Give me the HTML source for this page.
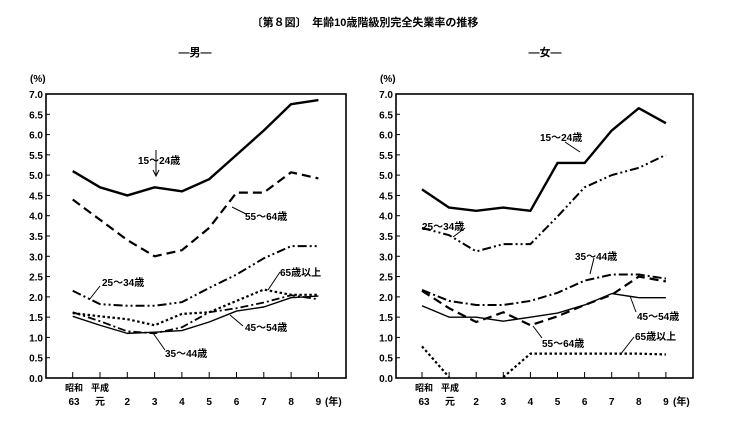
<!DOCTYPE html>
<html><head><meta charset="utf-8"><style>
body{margin:0;background:#fff;}
svg{display:block;font-family:"Liberation Sans","Noto Sans CJK JP",sans-serif;font-weight:bold;}
</style></head><body>
<svg id="s" width="729" height="437" viewBox="0 0 729 437" xmlns="http://www.w3.org/2000/svg">
<rect width="729" height="437" fill="#fff"/>
<text x="365" y="26" font-size="11" text-anchor="middle">〔第８図〕　年齢10歳階級別完全失業率の推移</text>
<text x="195" y="56" font-size="11" text-anchor="middle">―男―</text>
<text x="545" y="56" font-size="11" text-anchor="middle">―女―</text>
<g id="L"></g><g id="R"></g>
<g font-size="10">
<text x="30" y="82">(%)</text><text x="380" y="82">(%)</text>
<text x="74" y="405" text-anchor="middle">63</text><text x="100" y="405" text-anchor="middle">元</text>
<text x="74" y="391" text-anchor="middle" font-size="9">昭和</text><text x="100" y="391" text-anchor="middle" font-size="9">平成</text>
<text x="325" y="405" font-size="10">(年)</text>
<text x="424" y="405" text-anchor="middle">63</text><text x="450" y="405" text-anchor="middle">元</text>
<text x="424" y="391" text-anchor="middle" font-size="9">昭和</text><text x="450" y="391" text-anchor="middle" font-size="9">平成</text>
<text x="673" y="405" font-size="10">(年)</text>
</g>
<g font-size="10">
<text x="138" y="164">15～24歳</text>
<text x="245" y="220">55～64歳</text>
<text x="102" y="286">25～34歳</text>
<text x="280" y="276">65歳以上</text>
<text x="245" y="331">45～54歳</text>
<text x="165" y="357">35～44歳</text>
<text x="540" y="141">15～24歳</text>
<text x="422" y="230">25～34歳</text>
<text x="575" y="260">35～44歳</text>
<text x="637" y="320">45～54歳</text>
<text x="542" y="347">55～64歳</text>
<text x="635" y="340">65歳以上</text>
</g>
<g stroke="#000" stroke-width="1" fill="none">
<path d="M156 150 L156 176 M153 170 L156 176 L159 170"/>
<path d="M246 214 L232 207"/>
<path d="M100 286 L89 300"/>
<path d="M280 272 L268 290"/>
<path d="M243 326 L230 315"/>
<path d="M165 350 L153 333"/>
<path d="M565 142 L580 152"/>
<path d="M465 228 L453 237"/>
<path d="M594 258 L590 274"/>
<path d="M636 312 L630 296"/>
<path d="M542 338 L533 326"/>
<path d="M634 337 L620 355"/>
</g>
</svg>
<script>
const NS="http://www.w3.org/2000/svg";
function mk(p,tag,a){const e=document.createElementNS(NS,tag);for(const k in a)e.setAttribute(k,a[k]);p.appendChild(e);return e;}
function chart(id,x0,x1,first,dx,series){
 const g=document.getElementById(id),top=94,bot=378,py=(bot-top)/7;
 mk(g,"rect",{x:x0,y:top,width:x1-x0,height:bot-top,fill:"none",stroke:"#000","stroke-width":1.6});
 for(let i=0;i<=14;i++){const y=bot-i*py/2;mk(g,"line",{x1:x0,x2:x0+4,y1:y,y2:y,stroke:"#000"});
  const t=mk(g,"text",{x:x0-3,y:y+4,"font-size":10,"text-anchor":"end"});t.textContent=(i/2).toFixed(1);}
 const labs=["","","2","3","4","5","6","7","8","9"];
 for(let i=0;i<10;i++){const x=first+i*dx;mk(g,"line",{x1:x,x2:x,y1:bot,y2:bot-6,stroke:"#000"});
  if(labs[i]){const t=mk(g,"text",{x:x,y:405,"font-size":10,"text-anchor":"middle"});t.textContent=labs[i];}}
 for(const s of series){const pts=s.d.map((v,i)=>v==null?null:[first+i*dx,bot-v*py]);
  let segs=[],cur=[];pts.forEach(p=>{if(p)cur.push(p.join(","));else{if(cur.length)segs.push(cur);cur=[];}});if(cur.length)segs.push(cur);
  for(const c of segs)mk(g,"polyline",{points:c.join(" "),fill:"none",stroke:"#000","stroke-width":s.w,"stroke-dasharray":s.da||"none","stroke-linejoin":"round"});}
}
chart("L",46,346,72.7,27.3,[
 {d:[5.1,4.7,4.5,4.7,4.6,4.9,5.5,6.1,6.75,6.85],w:2.4},
 {d:[4.4,3.9,3.4,3.0,3.15,3.7,4.57,4.57,5.07,4.92],w:2.2,da:"9,5"},
 {d:[2.15,1.82,1.78,1.78,1.87,2.22,2.55,2.95,3.25,3.25],w:2,da:"9,3,2,3,2,3"},
 {d:[1.6,1.52,1.45,1.3,1.58,1.62,1.9,2.18,2.05,2.05],w:2.2,da:"2.5,2.5"},
 {d:[1.52,1.3,1.1,1.13,1.17,1.38,1.65,1.75,1.98,2.02],w:1.4},
 {d:[1.62,1.4,1.15,1.1,1.25,1.62,1.72,1.86,2.04,1.94],w:1.8,da:"8,3,2,3"}
]);
chart("R",396,693,422,27.1,[
 {d:[4.65,4.2,4.12,4.2,4.12,5.3,5.3,6.1,6.65,6.28],w:2.4},
 {d:[3.7,3.52,3.12,3.3,3.3,3.98,4.7,5.0,5.18,5.5],w:2,da:"9,3,2,3,2,3"},
 {d:[2.17,1.9,1.8,1.8,1.9,2.1,2.4,2.55,2.55,2.45],w:2,da:"9,3,2,3"},
 {d:[2.15,1.72,1.38,1.62,1.3,1.52,1.8,2.05,2.5,2.38],w:2.2,da:"9,5"},
 {d:[1.78,1.5,1.5,1.4,1.5,1.6,1.8,2.08,1.98,1.98],w:1.4},
 {d:[0.78,0.02,null,0.02,0.6,0.6,0.6,0.6,0.6,0.58],w:2.2,da:"2.5,2.5"}
]);
</script>
</body></html>
